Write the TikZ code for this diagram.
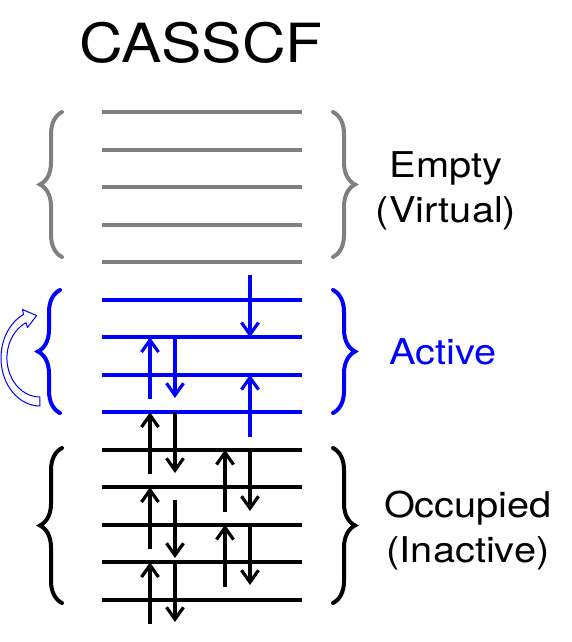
\documentclass[tikz,border=0pt]{standalone}
\usepackage{fontspec}
\setmainfont{TeX Gyre Heros}[FakeStretch=1.12]
\usetikzlibrary{arrows.meta,decorations.pathreplacing}

\tikzset{
  lvl/.style={line width=4pt},
  elec/.style={line width=3.2pt,-{Straight Barb[length=12pt,width=17pt]}},
  brc/.style={decorate,decoration={brace,amplitude=22pt},line width=4pt,line cap=round},
  lbl/.style={font=\fontsize{35.5}{42}\selectfont,anchor=base},
}

\begin{document}
\begin{tikzpicture}[x=1pt,y=-1pt]
\useasboundingbox (0,0) rectangle (571,642);

\node[anchor=base,font=\fontsize{54}{60}\selectfont] (title) at (201,63) {CASSCF};

% orbital levels
\foreach \k in {0,...,4} \draw[lvl,gray] (102,112.3+37.5*\k) -- (302,112.3+37.5*\k);
\foreach \k in {5,...,8} \draw[lvl,blue] (102,112.3+37.5*\k) -- (302,112.3+37.5*\k);
\foreach \k in {9,...,13} \draw[lvl] (102,112.3+37.5*\k) -- (302,112.3+37.5*\k);

% electrons in active space
\draw[elec,blue] (250,275) -- (250,337.3);
\draw[elec,blue] (150,399) -- (150,337.3);
\draw[elec,blue] (175,337.3) -- (175,398);
\draw[elec,blue] (250,437) -- (250,374.8);

% electrons in inactive space
\draw[elec] (150,474) -- (150,412.3);
\draw[elec] (175,412.3) -- (175,473);
\draw[elec] (225,512) -- (225,449.8);
\draw[elec] (250,449.8) -- (250,511);
\draw[elec] (150,549) -- (150,487.3);
\draw[elec] (175,500) -- (175,558);
\draw[elec] (225,587) -- (225,524.8);
\draw[elec] (250,524.8) -- (250,585);
\draw[elec] (150,624) -- (150,562.3);
\draw[elec] (175,560) -- (175,622);

% braces
\draw[brc,gray] (62,257) -- (62,112);
\draw[brc,gray] (333,112) -- (333,257);
\draw[brc,blue] (60,413) -- (60,290);
\draw[brc,blue] (333,290) -- (333,413);
\draw[brc] (62,603) -- (62,448);
\draw[brc] (333,448) -- (333,603);

% rotation arrow
\draw[blue,line width=1pt,fill=white,line join=round] (40,406) arc[start angle=90,end angle=245,x radius=39,y radius=48]
  -- (22.5,309.5) -- (36.6,315.6) -- (27.5,327.5) -- (26,322.7)
  arc[start angle=245,end angle=90,x radius=33,y radius=39] -- cycle;

\node[lbl] (empty) at (446,177) {Empty};
\node[lbl] (virtual) at (446,222) {(Virtual)};
\node[lbl,blue] (active) at (443,364) {Active};
\node[lbl] (occupied) at (468,517) {Occupied};
\node[lbl] (inactive) at (468,562) {(Inactive)};
\end{tikzpicture}
\end{document}
